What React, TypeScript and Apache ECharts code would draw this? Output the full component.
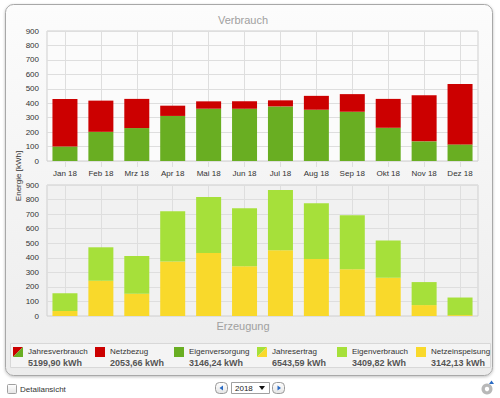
import React, { useEffect, useRef } from 'react';
import * as echarts from 'echarts';

const months = ['Jan 18', 'Feb 18', 'Mrz 18', 'Apr 18', 'Mai 18', 'Jun 18', 'Jul 18', 'Aug 18', 'Sep 18', 'Okt 18', 'Nov 18', 'Dez 18'];
// Verbrauch (top chart)
const eigenversorgung = [100, 202, 228, 312, 362, 362, 378, 355, 341, 230, 136, 115];
const netzbezug = [330, 216, 202, 71, 51, 51, 42, 96, 122, 200, 320, 418];
// Erzeugung (bottom chart)
const netzeinspeisung = [35, 242, 153, 374, 432, 341, 451, 392, 322, 263, 75, 6];
const eigenverbrauch = [122, 230, 260, 345, 386, 399, 414, 383, 371, 256, 158, 121];

const legendNames = ['Jahresverbrauch', 'Netzbezug', 'Eigenversorgung', 'Jahresertrag', 'Eigenverbrauch', 'Netzeinspeisung'];
const legendValues = ['5199,90 kWh', '2053,66 kWh', '3146,24 kWh', '6543,59 kWh', '3409,82 kWh', '3142,13 kWh'];
const yearLabel = '2018';

const RED = '#cc0000';
const GREEN = '#69ae22';
const LGREEN = '#a6e03a';
const YELLOW = '#f9d92b';
const FONT = '"Liberation Sans", Arial, sans-serif';

export default function App() {
  const ref = useRef<HTMLDivElement>(null);
  useEffect(() => {
    if (!ref.current) return;
    const chart = echarts.init(ref.current, undefined, { renderer: 'svg' });

    const yAxisCommon = (gridIndex: number) => ({
      type: 'value' as const,
      gridIndex,
      min: 0,
      max: 900,
      interval: 100,
      axisLine: { show: false },
      axisTick: { show: false },
      axisLabel: { color: '#333', fontSize: 8, fontFamily: FONT, margin: 8 },
      splitLine: { show: true, lineStyle: { color: '#dedede', width: 1 } },
    });
    const vGrid = (gridIndex: number) => ({
      type: 'value' as const,
      gridIndex,
      min: 0,
      max: 24,
      interval: 1,
      axisLine: { show: false },
      axisTick: { show: false },
      axisLabel: { show: false },
      splitLine: { show: true, lineStyle: { color: ['rgba(0,0,0,0)', '#dedede'], width: 1 } },
    });

    const legendIconX = [13, 95, 174, 257, 337, 416];
    const legendGraphics: any[] = [];
    legendNames.forEach((name, i) => {
      const x = legendIconX[i];
      const y = 347;
      if (i === 0 || i === 3) {
        const c1 = i === 0 ? RED : LGREEN;
        const c2 = i === 0 ? GREEN : YELLOW;
        legendGraphics.push({ type: 'polygon', shape: { points: [[x, y], [x + 10, y], [x, y + 10]] }, style: { fill: c1 } });
        legendGraphics.push({ type: 'polygon', shape: { points: [[x + 10, y], [x + 10, y + 10], [x, y + 10]] }, style: { fill: c2 } });
      } else {
        const c = [RED, RED, GREEN, LGREEN, LGREEN, YELLOW][i];
        legendGraphics.push({ type: 'rect', shape: { x, y, width: 10, height: 10 }, style: { fill: c } });
      }
      legendGraphics.push({ type: 'text', x: x + 15, y: 351, style: { text: name, fill: '#333', fontSize: 8, fontFamily: FONT, verticalAlign: 'middle', align: 'left' } });
      legendGraphics.push({ type: 'text', x: x + 15, y: 362.5, style: { text: legendValues[i], fill: '#555', fontSize: 9, fontWeight: 'bold', fontFamily: FONT, verticalAlign: 'middle', align: 'left' } });
    });

    const btnGrad = () => new echarts.graphic.LinearGradient(0, 0, 0, 1, [{ offset: 0, color: '#ffffff' }, { offset: 1, color: '#e4e4e4' }]);

    chart.setOption({
      animation: false,
      backgroundColor: '#ffffff',
      grid: [
        { left: 47, right: 22, top: 31, height: 130, show: true, backgroundColor: '#fbfbfb', borderColor: '#cfcfcf', borderWidth: 1 },
        { left: 47, right: 22, top: 185, height: 131, show: true, backgroundColor: '#f1f1f1', borderColor: '#cfcfcf', borderWidth: 1 },
      ],
      xAxis: [
        {
          type: 'category', gridIndex: 0, data: months, position: 'bottom',
          axisLine: { show: false },
          axisTick: { show: true, alignWithLabel: true, length: 6, lineStyle: { color: '#dedede' } },
          axisLabel: { color: '#333', fontSize: 8, fontFamily: FONT, margin: 8, interval: 0 },
          splitLine: { show: false },
        },
        {
          type: 'category', gridIndex: 1, data: months, position: 'top',
          axisLine: { show: false },
          axisTick: { show: true, alignWithLabel: true, length: 8, lineStyle: { color: '#dedede' } },
          axisLabel: { show: false },
          splitLine: { show: false },
        },
        vGrid(0),
        vGrid(1),
      ],
      yAxis: [yAxisCommon(0), yAxisCommon(1)],
      series: [
        { type: 'bar', name: 'Eigenversorgung', xAxisIndex: 0, yAxisIndex: 0, stack: 'v', data: eigenversorgung, barWidth: 25, itemStyle: { color: GREEN } },
        { type: 'bar', name: 'Netzbezug', xAxisIndex: 0, yAxisIndex: 0, stack: 'v', data: netzbezug, barWidth: 25, itemStyle: { color: RED } },
        { type: 'bar', name: 'Netzeinspeisung', xAxisIndex: 1, yAxisIndex: 1, stack: 'e', data: netzeinspeisung, barWidth: 25, itemStyle: { color: YELLOW } },
        { type: 'bar', name: 'Eigenverbrauch', xAxisIndex: 1, yAxisIndex: 1, stack: 'e', data: eigenverbrauch, barWidth: 25, itemStyle: { color: LGREEN } },
      ],
      graphic: [
        {
          type: 'rect', z: -10, shape: { x: 5.5, y: 4.5, width: 487, height: 371, r: 8 },
          style: {
            fill: new echarts.graphic.LinearGradient(0, 0, 0, 1, [{ offset: 0, color: '#fcfcfc' }, { offset: 1, color: '#ececec' }]),
            stroke: '#a8a8a8', lineWidth: 1, shadowBlur: 3, shadowColor: 'rgba(0,0,0,0.25)', shadowOffsetY: 1,
          },
        },
        { type: 'rect', z: -9, shape: { x: 10.5, y: 343.5, width: 480, height: 24 }, style: { fill: '#f4f4f4', stroke: '#d8d8d8', lineWidth: 1 } },
        { type: 'text', x: 243, y: 20, style: { text: 'Verbrauch', fill: '#a0a0a0', fontSize: 11, fontFamily: FONT, align: 'center', verticalAlign: 'middle' } },
        { type: 'text', x: 243, y: 326, style: { text: 'Erzeugung', fill: '#a0a0a0', fontSize: 11, fontFamily: FONT, align: 'center', verticalAlign: 'middle' } },
        { type: 'text', x: 18, y: 176, rotation: Math.PI / 2, style: { text: 'Energie [kWh]', fill: '#333', fontSize: 8, fontFamily: FONT, align: 'center', verticalAlign: 'middle' } },
        ...legendGraphics,
        // footer controls
        { type: 'rect', shape: { x: 7.5, y: 384.5, width: 9, height: 9, r: 1 }, style: { fill: btnGrad(), stroke: '#a0a0a0', lineWidth: 1 } },
        { type: 'text', x: 20, y: 389, style: { text: 'Detailansicht', fill: '#333', fontSize: 8, fontFamily: FONT, verticalAlign: 'middle' } },
        { type: 'rect', shape: { x: 215.5, y: 382.5, width: 12, height: 11, r: 4 }, style: { fill: btnGrad(), stroke: '#9a9a9a', lineWidth: 1 } },
        { type: 'polygon', shape: { points: [[223, 385.5], [223, 390.5], [219.5, 388]] }, style: { fill: '#2a6bc4' } },
        { type: 'rect', shape: { x: 231.5, y: 382.5, width: 38, height: 11 }, style: { fill: '#ffffff', stroke: '#a0a0a0', lineWidth: 1 } },
        { type: 'text', x: 235, y: 388.5, style: { text: yearLabel, fill: '#222', fontSize: 8, fontFamily: FONT, verticalAlign: 'middle' } },
        { type: 'polygon', shape: { points: [[259, 386], [265, 386], [262, 390]] }, style: { fill: '#111' } },
        { type: 'rect', shape: { x: 272.5, y: 382.5, width: 12, height: 11, r: 4 }, style: { fill: btnGrad(), stroke: '#9a9a9a', lineWidth: 1 } },
        { type: 'polygon', shape: { points: [[277.5, 385.5], [277.5, 390.5], [281, 388]] }, style: { fill: '#2a6bc4' } },
        { type: 'ring', shape: { cx: 487, cy: 389, r: 5.5, r0: 2.2 }, style: { fill: '#b8b8b8' } },
        { type: 'polygon', shape: { points: [[489, 384], [494, 384], [491.5, 380.5]] }, style: { fill: '#2a6bc4' } },
      ],
    });
    return () => chart.dispose();
  }, []);
  return <div ref={ref} style={{ position: 'fixed', left: 0, top: 0, width: 500, height: 398 }} />;
}
